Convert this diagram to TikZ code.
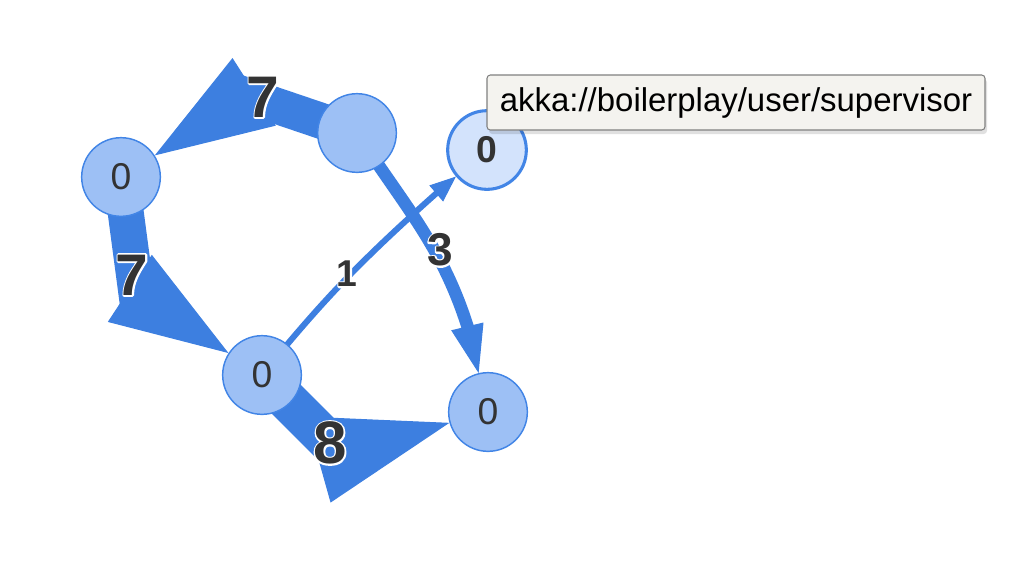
\documentclass[tikz,border=0pt]{standalone}
\usepackage{fontspec}
\setmainfont{Liberation Sans}
\usetikzlibrary{arrows.meta,backgrounds,shadows}
\definecolor{edgeblue}{RGB}{61,127,224}
\definecolor{nodefill}{RGB}{157,192,245}
\definecolor{nodeline}{RGB}{66,133,230}
\definecolor{selfill}{RGB}{211,227,252}
\definecolor{txt}{RGB}{51,51,51}
\definecolor{tipfill}{RGB}{244,243,239}
\definecolor{tipline}{RGB}{128,128,128}
\newcommand\halotext[1]{\makebox[0pt][l]{\special{pdf:literal direct 1 1 1 RG 2.4 w 1 j 1 J 1 Tr}#1\special{pdf:literal direct 0 Tr}}#1}
\tikzset{
  actor/.style={circle, draw=nodeline, line width=1.1pt, fill=nodefill,
    minimum size=59pt, inner sep=0pt, text=txt,
    font=\fontsize{28pt}{28pt}\selectfont},
  selactor/.style={actor, fill=selfill, line width=2.3pt,
    font=\bfseries\fontsize{28pt}{28pt}\selectfont},
  shaft/.style={draw=edgeblue, line cap=butt},
  headline/.style={draw=edgeblue, line width=0.8pt},
  wlabel/.style={text=txt, inner sep=0pt, font=\bfseries\fontsize{#1}{#1}\selectfont},
  tooltipbox/.style={draw=tipline, line width=0.8pt, fill=tipfill, rounded corners=2.5pt,
    minimum width=373.5pt, minimum height=41.25pt, inner sep=0pt,
    font=\fontsize{24.7pt}{29pt}\selectfont, text=black,
    drop shadow={shadow xshift=1.5pt, shadow yshift=-3pt, opacity=0.12, fill=black}}
}
\begin{document}
\begin{tikzpicture}[x=0.75pt,y=0.75pt]
\useasboundingbox (0,0) rectangle (1036,-562);
% nodes
\node[actor] (A) at (357,-133) {};
\node[actor] (B) at (121,-177) {0};
\node[actor] (C) at (262,-375) {0};
\node[actor] (D) at (488,-412) {0};
\node[selactor] (E) at (487,-150) {0};
% shaft ends and head bases
\coordinate (s1) at (233,-91);
\coordinate (h1) at (257,-90);
\coordinate (s2) at (138,-305);
\coordinate (h2) at (128.5,-287.5);
\coordinate (s3) at (335,-448);
\coordinate (h3) at (317,-460);
\coordinate (s4) at (470,-334.6);
\coordinate (h4) at (467,-325);
\coordinate (s5) at (438.7,-191.2);
\coordinate (h5) at (435,-194.5);
\begin{scope}[on background layer]
  % A -> B (7)
  \draw[shaft, line width=27pt] (A.center) -- (s1);
  \draw[headline, -{Triangle[length=88.5pt,width=60pt]}] (h1) -- (B);
  % B -> C (7)
  \draw[shaft, line width=27pt] (B.center) -- (s2);
  \draw[headline, -{Triangle[length=88.5pt,width=60pt]}] (h2) -- (C);
  % C -> D (8)
  \draw[shaft, line width=30.75pt] (C.center) -- (s3);
  \draw[headline, -{Triangle[length=102pt,width=66.75pt]}] (h3) -- (D);
  % A -> D (3)
  \draw[shaft, line width=9.4pt] (A.center) to[out=-57,in=106.6] (s4);
  \draw[headline, -{Triangle[length=36pt,width=24.75pt]}] (h4) -- (D);
  % C -> E (1)
  \draw[shaft, line width=4.5pt] (C.center) to[out=51,in=221.7] (s5);
  \draw[headline, -{Triangle[length=19.5pt,width=15.75pt]}] (h5) -- (E);
\end{scope}
% edge labels
\node[wlabel=44pt] (l7a) at (263,-97) {\halotext{7}};
\node[wlabel=44pt] (l7b) at (132,-275) {\halotext{7}};
\node[wlabel=45pt] (l8) at (330,-443) {\halotext{8}};
\node[wlabel=34.5pt] (l3) at (440,-250) {\halotext{3}};
\node[wlabel=28pt] (l1) at (347,-274) {\halotext{1}};
% tooltip
\node[tooltipbox] (tooltip) at (736,-102.5) {akka://boilerplay/user/supervisor};
\end{tikzpicture}
\end{document}
